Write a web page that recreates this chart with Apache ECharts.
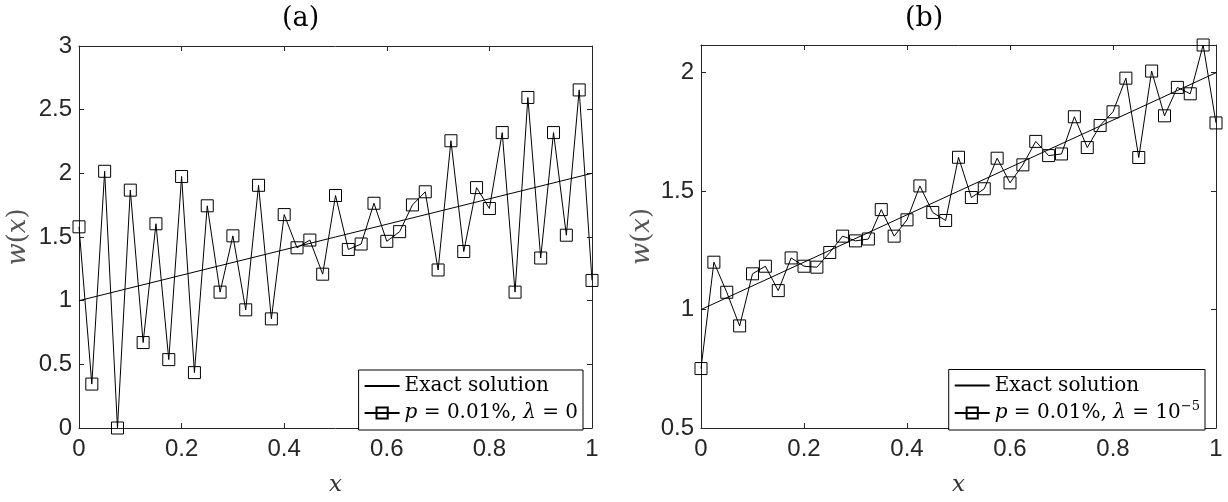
<!DOCTYPE html>
<html>
<head>
<meta charset="utf-8">
<script src="https://cdn.jsdelivr.net/npm/echarts@6/dist/echarts.min.js"></script>
<style>
  html, body { margin: 0; padding: 0; background: #fff; }
  #chart { width: 1228px; height: 502px; }
</style>
</head>
<body>
<div id="chart"></div>
<script>
// Grid nodes x_i on [0, 1]
const xNodes = [0, 0.025, 0.05, 0.075, 0.1, 0.125, 0.15, 0.175, 0.2, 0.225,
                0.25, 0.275, 0.3, 0.325, 0.35, 0.375, 0.4, 0.425, 0.45, 0.475,
                0.5, 0.525, 0.55, 0.575, 0.6, 0.625, 0.65, 0.675, 0.7, 0.725,
                0.75, 0.775, 0.8, 0.825, 0.85, 0.875, 0.9, 0.925, 0.95, 0.975, 1];

// (a) reconstruction without regularisation
const wNoisyA = [1.58, 0.345, 2.016, 0, 1.868, 0.671, 1.604, 0.537, 1.975, 0.435,
                 1.745, 1.067, 1.509, 0.928, 1.906, 0.857, 1.676, 1.415, 1.476, 1.208,
                 1.826, 1.402, 1.445, 1.765, 1.466, 1.542, 1.752, 1.855, 1.241, 2.256,
                 1.386, 1.888, 1.724, 2.32, 1.067, 2.596, 1.335, 2.32, 1.514, 2.655, 1.159];

// (b) reconstruction with lambda = 1e-5
const wNoisyB = [0.751, 1.2, 1.073, 0.931, 1.151, 1.183, 1.08, 1.218, 1.183, 1.179,
                 1.241, 1.31, 1.29, 1.298, 1.422, 1.31, 1.379, 1.522, 1.41, 1.376,
                 1.643, 1.473, 1.51, 1.639, 1.535, 1.611, 1.71, 1.65, 1.657, 1.814,
                 1.684, 1.777, 1.835, 1.977, 1.642, 2.007, 1.818, 1.938, 1.911, 2.117, 1.788];

// Exact solution w(x) = 1 + x (end points of the straight line)
const exactX = [0, 1];
const exactW = [1, 2];

// Legend entries
const nameExact = 'Exact solution';
const nameA = 'p = 0.01%, λ = 0';
const nameB = 'p = 0.01%, λ = 10^-5';

// Axis ranges
const xRange = [0, 1], xStep = 0.2;
const yRangeA = [0, 3], yStepA = 0.5;
const yRangeB = [0.5, Math.max(...wNoisyB)], yStepB = 0.5;

const ink = '#262626';
const sans = 'Liberation Sans, Arial, sans-serif';
const serif = 'DejaVu Serif, serif';

const pairs = (xs, ys) => xs.map((x, i) => [x, ys[i]]);

function xAxes(gridIndex) {
  const common = {
    type: 'value', gridIndex, min: xRange[0], max: xRange[1], interval: xStep,
    axisLine: { show: true, onZero: false, lineStyle: { color: ink, width: 1 } },
    axisTick: { show: true, inside: true, length: 5, lineStyle: { color: ink, width: 1 } },
    splitLine: { show: false }
  };
  return [
    Object.assign({}, common, {
      position: 'bottom',
      axisLabel: { color: ink, fontFamily: sans, fontSize: 24, margin: 9 },
      name: 'x', nameLocation: 'middle', nameGap: 46,
      nameTextStyle: { fontFamily: serif, fontStyle: 'italic', fontSize: 23, color: '#333' }
    }),
    Object.assign({}, common, { position: 'top', axisLabel: { show: false } })
  ];
}

function yAxes(gridIndex, range, step, nameGap) {
  const common = {
    type: 'value', gridIndex, min: range[0], max: range[1], interval: step,
    axisLine: { show: true, onZero: false, lineStyle: { color: ink, width: 1 } },
    axisTick: { show: true, inside: true, length: 5, lineStyle: { color: ink, width: 1 } },
    splitLine: { show: false }
  };
  return [
    Object.assign({}, common, {
      position: 'left',
      axisLabel: { color: ink, fontFamily: sans, fontSize: 24, margin: 7, showMaxLabel: range[1] % step === 0 },
      name: '{i|w}{n|(}{i|x}{n|)}', nameLocation: 'middle', nameGap: nameGap,
      nameTextStyle: {
        color: '#555',
        rich: {
          i: { fontFamily: serif, fontStyle: 'italic', fontSize: 26, color: '#555' },
          n: { fontFamily: serif, fontSize: 26, color: '#555' }
        }
      }
    }),
    Object.assign({}, common, { position: 'right', axisLabel: { show: false } })
  ];
}

function legendFor(name, right) {
  return {
    data: [{ name: nameExact, itemStyle: { opacity: 0 } }, name],
    orient: 'vertical',
    right: right, bottom: 72,
    itemWidth: 35, itemHeight: 14, itemGap: 3,
    padding: [4, 5, 5, 5],
    borderColor: '#000', borderWidth: 1, borderRadius: 0,
    backgroundColor: '#fff',
    selectedMode: false,
    textStyle: {
      fontFamily: serif, fontSize: 20, color: '#000', lineHeight: 24,
      rich: {
        i: { fontFamily: serif, fontStyle: 'italic', fontSize: 20, color: '#000' },
        sup: { fontFamily: serif, fontSize: 13, color: '#000', padding: [0, 0, 12, 0] }
      }
    },
    formatter: function (n) {
      if (n === nameA) return '{i|p} = 0.01%, {i|λ} = 0';
      if (n === nameB) return '{i|p} = 0.01%, {i|λ} = 10{sup|−5}';
      return n;
    }
  };
}

function exactSeries(xi, yi) {
  return {
    name: nameExact, type: 'line', xAxisIndex: xi, yAxisIndex: yi,
    data: pairs(exactX, exactW), symbol: 'none',
    lineStyle: { color: '#000', width: 1 }, itemStyle: { color: '#000' },
    silent: true
  };
}

function noisySeries(name, values, xi, yi) {
  return {
    name: name, type: 'line', xAxisIndex: xi, yAxisIndex: yi,
    data: pairs(xNodes, values),
    symbol: 'rect', symbolSize: 12,
    lineStyle: { color: '#000', width: 1 },
    itemStyle: { color: 'rgba(0,0,0,0)', borderColor: '#000', borderWidth: 1 },
    silent: true
  };
}

const titleStyle = { fontFamily: serif, fontSize: 27, fontWeight: 'normal', color: '#000' };

const chart = echarts.init(document.getElementById('chart'), null, { renderer: 'canvas' });
chart.setOption({
  animation: false,
  backgroundColor: '#fff',
  title: [
    { text: '(a)', left: 282, top: 5, padding: 0, textStyle: titleStyle },
    { text: '(b)', left: 905, top: 5, padding: 0, textStyle: titleStyle }
  ],
  grid: [
    { left: 79, top: 46, width: 513, height: 391 },
    { left: 701, top: 45, width: 515, height: 391 }
  ],
  xAxis: [...xAxes(0), ...xAxes(1)],
  yAxis: [...yAxes(0, yRangeA, yStepA, 48), ...yAxes(1, yRangeB, yStepB, 46)],
  legend: [legendFor(nameA, 645), legendFor(nameB, 23)],
  series: [
    exactSeries(0, 0),
    noisySeries(nameA, wNoisyA, 0, 0),
    exactSeries(2, 2),
    noisySeries(nameB, wNoisyB, 2, 2)
  ]
});
</script>
</body>
</html>
